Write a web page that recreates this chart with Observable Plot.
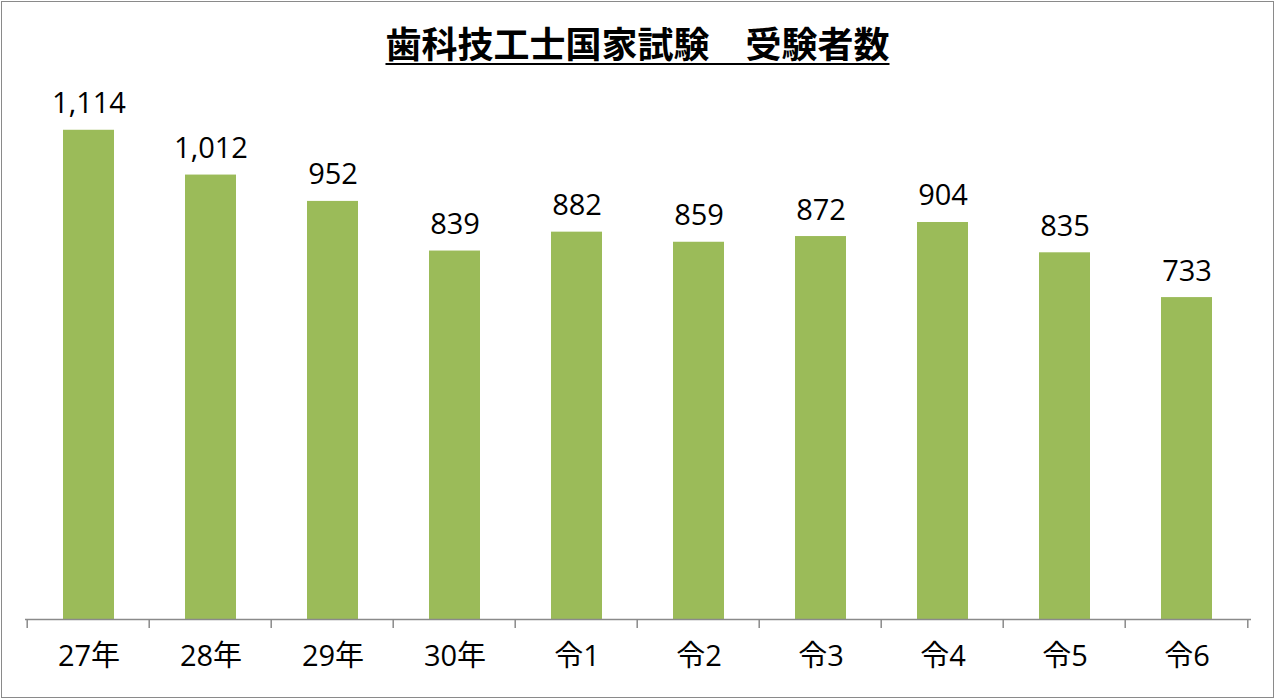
<!DOCTYPE html>
<html>
<head>
<meta charset="utf-8">
<script src="https://cdn.jsdelivr.net/npm/d3@7"></script>
<script src="https://cdn.jsdelivr.net/npm/@observablehq/plot@0.6"></script>
<style>
  html, body { margin: 0; padding: 0; background: #fff; }
  #wrap { position: relative; width: 1275px; height: 700px; overflow: hidden; }
  #title {
    position: absolute; left: 0; top: 22px; width: 1275px; text-align: center;
    font-family: "Noto Sans CJK JP", sans-serif; font-size: 36px; font-weight: 700;
    color: #000; line-height: 40px; z-index: 2;
  }
  #title span { text-decoration: underline; text-decoration-thickness: 2px; text-underline-offset: 5px; }
  #chart { position: absolute; left: 0; top: 0; }
  #border { position: absolute; left: 1px; top: 1px; width: 1271px; height: 695px;
    border: 1.5px solid #8a8a8a; pointer-events: none; z-index: 3; }
</style>
</head>
<body>
<div id="wrap">
  <div id="chart"></div>
  <div id="title"><span>歯科技工士国家試験　受験者数</span></div>
  <div id="border"></div>
</div>
<script>
const categories = ["27年", "28年", "29年", "30年", "令1", "令2", "令3", "令4", "令5", "令6"];
const values = [1114, 1012, 952, 839, 882, 859, 872, 904, 835, 733];
const yMax = 1200;

const data = categories.map((c, i) => ({category: c, value: values[i]}));

const W = 1275, H = 700;
const mL = 25, mR = 24, mT = 92, mB = 81;
const step = (W - mL - mR) / categories.length;
const tickLen = 9;
const axisColor = "#8a8a8a";
const fontFam = "'Open Sans', 'Noto Sans CJK JP', sans-serif";

// custom mark: category-boundary tick marks below the baseline
function boundaryTicks(index, scales) {
  const x = scales.x, y = scales.y;
  const bw = typeof x.bandwidth === "function" ? x.bandwidth() : (x.bandwidth || 0);
  const y0 = y(0);
  const g = d3.create("svg:g").attr("stroke", axisColor).attr("stroke-width", 1.5);
  const xs = categories.map(c => x(c) + bw / 2 - step / 2);
  xs.push(x(categories[categories.length - 1]) + bw / 2 + step / 2);
  for (const px of xs) {
    g.append("line").attr("x1", px).attr("x2", px).attr("y1", y0).attr("y2", y0 + tickLen);
  }
  return g.node();
}

const chart = Plot.plot({
  width: W,
  height: H,
  marginLeft: mL,
  marginRight: mR,
  marginTop: mT,
  marginBottom: mB,
  style: {fontFamily: fontFam, background: "transparent", overflow: "visible"},
  x: {domain: categories, paddingInner: 0.58, paddingOuter: 0.29, label: null},
  y: {domain: [0, yMax], axis: null},
  marks: [
    Plot.barY(data, {x: "category", y: "value", fill: "#9BBB59"}),
    Plot.ruleY([0], {stroke: axisColor, strokeWidth: 1.5}),
    boundaryTicks,
    Plot.text(data, {
      x: "category", y: "value", text: d => d3.format(",")(d.value),
      dy: -17, lineAnchor: "bottom", fontSize: 29, fill: "#000", fontFamily: fontFam
    }),
    Plot.axisX({tickSize: 0, tickPadding: 26, fontSize: 29, label: null, color: "#000", fontFamily: fontFam})
  ]
});
document.getElementById("chart").appendChild(chart);
</script>
</body>
</html>
